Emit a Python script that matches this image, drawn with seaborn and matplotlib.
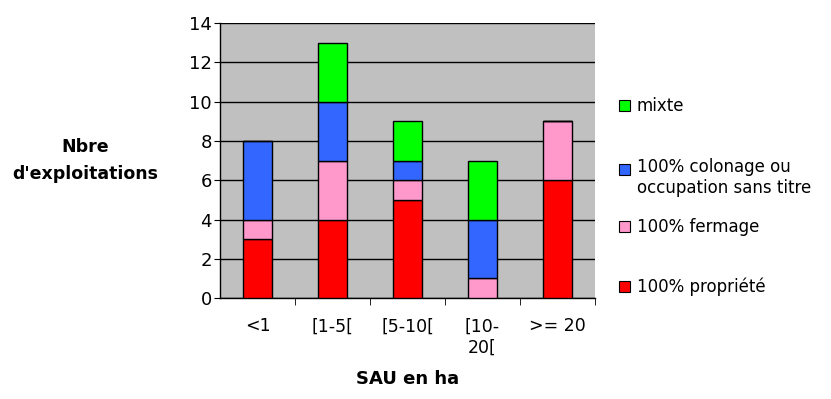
import pandas as pd
import matplotlib
matplotlib.use("Agg")
import matplotlib.pyplot as plt
from matplotlib.legend_handler import HandlerPatch
import seaborn as sns

# données
classes = ["<1", "[1-5[", "[5-10[", "[10-\n20[", ">= 20"]
propriete = [3, 4, 5, 0, 6]
fermage = [1, 3, 1, 1, 3]
colonage = [4, 3, 1, 3, 0]
mixte = [0, 3, 2, 3, 0]

series = [
    ("100% propriété", propriete, "#FF0000"),
    ("100% fermage", fermage, "#FF99CC"),
    ("100% colonage ou\noccupation sans titre", colonage, "#3366FF"),
    ("mixte", mixte, "#00FF00"),
]
# position verticale (fraction de figure) de chaque entrée de légende, style Excel
leg_y = [0.281, 0.431, 0.556, 0.734]

sns.set_style("white")
plt.rcParams["font.family"] = ["DejaVu Sans"]
plt.rcParams.update({"text.color": "black", "axes.labelcolor": "black",
                     "xtick.color": "black", "ytick.color": "black"})

fig = plt.figure(figsize=(8.31, 3.99), dpi=100)
ax = fig.add_axes([0.2647, 0.253, 0.4513, 0.689])
ax.set_facecolor("#C0C0C0")

bottom = [0] * len(classes)
for name, vals, col in series:
    df = pd.DataFrame({"classe": classes, "n": vals})
    sns.barplot(data=df, x="classe", y="n", color=col, bottom=bottom, width=0.38,
                edgecolor="black", linewidth=1, saturation=1, ax=ax, zorder=3)
    bottom = [b + v for b, v in zip(bottom, vals)]

ax.set_ylim(0, 14)
ax.set_xlim(-0.5, len(classes) - 0.5)
ax.set_yticks(range(0, 15, 2))
ax.yaxis.grid(True, color="black", linewidth=1)
ax.set_axisbelow(True)
ax.tick_params(axis="y", labelsize=13, length=4, direction="out", left=True, pad=2)
ax.tick_params(axis="x", which="major", length=0, labelsize=12.5, pad=14)
ax.set_xticks([i + 0.5 for i in range(len(classes))], minor=True)
ax.tick_params(axis="x", which="minor", length=5, direction="out", bottom=True)
for s in ["top", "right"]:
    ax.spines[s].set_visible(False)
for s in ["left", "bottom"]:
    ax.spines[s].set_color("black")
    ax.spines[s].set_linewidth(1)

ax.set_xlabel("SAU en ha", fontsize=13, fontweight="bold", labelpad=10)
ax.set_ylabel("Nbre\nd'exploitations", fontsize=12.5, fontweight="bold",
              rotation=0, ha="center", va="center", linespacing=1.7)
ax.yaxis.set_label_coords(-0.36, 0.5)


def carre_haut(legend, orig_handle, xdescent, ydescent, width, height, fontsize):
    # carré aligné sur la première ligne du libellé
    return plt.Rectangle((-xdescent, -ydescent + 6.5), width, height)


for (name, vals, col), y in zip(series, leg_y):
    h = plt.Rectangle((0, 0), 1, 1, facecolor=col, edgecolor="black", linewidth=0.8)
    hmap = {h: HandlerPatch(patch_func=carre_haut)} if "\n" in name else {}
    fig.legend([h], [name], loc="center left", bbox_to_anchor=(0.745, y),
               frameon=False, fontsize=12, handlelength=0.65, handleheight=0.65,
               handletextpad=0.4, borderaxespad=0, borderpad=0, handler_map=hmap)

fig.savefig("out.png", dpi=100)
